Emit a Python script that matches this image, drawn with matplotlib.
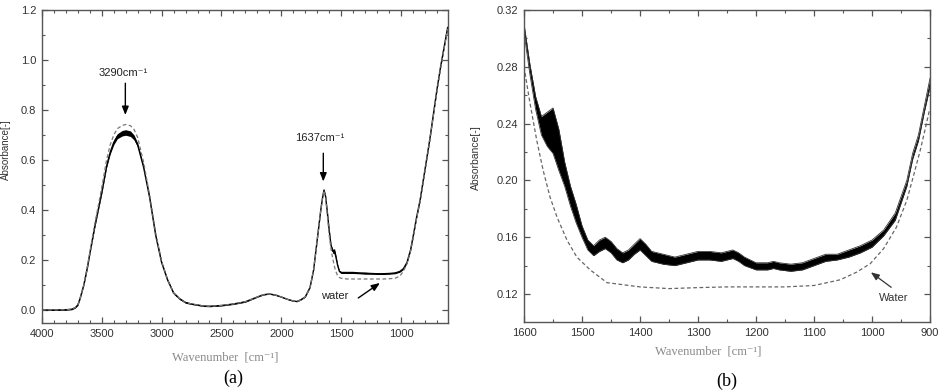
import matplotlib
matplotlib.use("Agg")
import matplotlib.pyplot as plt
from matplotlib.ticker import MultipleLocator, FormatStrFormatter
import numpy as np

# ---------------- data: panel (a) ----------------
wn_a = [4000, 3900, 3800, 3750, 3720, 3700, 3680, 3650, 3620, 3600, 3560, 3530, 3500,
        3460, 3430, 3400, 3370, 3330, 3300, 3260, 3230, 3200, 3150, 3100, 3050, 3000,
        2950, 2900, 2850, 2800, 2750, 2700, 2650, 2600, 2500, 2400, 2300, 2200, 2150,
        2100, 2050, 2000, 1950, 1900, 1870, 1840, 1800, 1760, 1730, 1710, 1690, 1670,
        1655, 1643, 1630, 1615, 1600, 1585, 1570, 1555, 1545, 1530, 1515, 1500, 1450,
        1400, 1350, 1300, 1250, 1200, 1150, 1100, 1050, 1010, 980, 950, 920, 900, 870,
        840, 800, 760, 730, 700, 670, 640, 610]
sample_a = [0.000, 0.000, 0.001, 0.003, 0.010, 0.020, 0.048, 0.100, 0.170, 0.225, 0.330,
            0.400, 0.470, 0.575, 0.630, 0.670, 0.695, 0.707, 0.710, 0.705, 0.690, 0.660,
            0.570, 0.450, 0.300, 0.190, 0.120, 0.068, 0.045, 0.030, 0.024, 0.020, 0.016,
            0.015, 0.018, 0.024, 0.033, 0.052, 0.061, 0.064, 0.060, 0.052, 0.043, 0.036,
            0.034, 0.040, 0.052, 0.090, 0.160, 0.240, 0.320, 0.400, 0.450, 0.480, 0.455,
            0.390, 0.320, 0.260, 0.235, 0.235, 0.215, 0.180, 0.155, 0.150, 0.150, 0.150,
            0.148, 0.147, 0.146, 0.145, 0.145, 0.146, 0.148, 0.154, 0.165, 0.190, 0.240,
            0.290, 0.370, 0.440, 0.560, 0.680, 0.780, 0.880, 0.970, 1.050, 1.130]
spread_a = [0.002, 0.002, 0.002, 0.002, 0.002, 0.002, 0.002, 0.002, 0.003, 0.003, 0.004,
            0.004, 0.005, 0.006, 0.007, 0.009, 0.010, 0.011, 0.011, 0.011, 0.010, 0.008,
            0.006, 0.005, 0.005, 0.005, 0.004, 0.004, 0.003, 0.003, 0.002, 0.002, 0.002,
            0.002, 0.002, 0.002, 0.002, 0.001, 0.001, 0.001, 0.001, 0.001, 0.001, 0.001,
            0.001, 0.001, 0.001, 0.001, 0.001, 0.001, 0.001, 0.001, 0.001, 0.002, 0.002,
            0.002, 0.002, 0.003, 0.008, 0.010, 0.008, 0.004, 0.004, 0.004, 0.004, 0.004,
            0.003, 0.004, 0.003, 0.003, 0.003, 0.003, 0.003, 0.003, 0.003, 0.003, 0.003,
            0.003, 0.003, 0.003, 0.003, 0.003, 0.003, 0.003, 0.003, 0.003, 0.003]
water_a = [0.000, 0.000, 0.001, 0.003, 0.010, 0.020, 0.048, 0.100, 0.175, 0.230, 0.340,
           0.415, 0.490, 0.600, 0.660, 0.700, 0.725, 0.738, 0.742, 0.737, 0.722, 0.690,
           0.590, 0.460, 0.310, 0.195, 0.122, 0.068, 0.045, 0.030, 0.024, 0.020, 0.016,
           0.015, 0.018, 0.024, 0.033, 0.052, 0.061, 0.064, 0.060, 0.052, 0.043, 0.036,
           0.034, 0.040, 0.052, 0.090, 0.160, 0.240, 0.320, 0.400, 0.450, 0.478, 0.450,
           0.380, 0.300, 0.245, 0.205, 0.172, 0.155, 0.138, 0.130, 0.127, 0.124, 0.124,
           0.124, 0.124, 0.124, 0.124, 0.124, 0.125, 0.127, 0.135, 0.155, 0.185, 0.235,
           0.285, 0.365, 0.435, 0.555, 0.675, 0.775, 0.875, 0.965, 1.045, 1.125]

# ---------------- data: panel (b) ----------------
wn_b = [1600, 1590, 1580, 1570, 1560, 1550, 1540, 1530, 1520, 1510, 1500, 1490, 1480,
        1470, 1460, 1450, 1440, 1430, 1420, 1410, 1400, 1390, 1380, 1360, 1340, 1320,
        1300, 1280, 1260, 1240, 1230, 1220, 1200, 1180, 1170, 1160, 1140, 1120, 1100,
        1080, 1060, 1040, 1020, 1000, 980, 960, 940, 930, 920, 910, 900]
upper_b = [0.310, 0.282, 0.259, 0.245, 0.248, 0.251, 0.236, 0.213, 0.196, 0.183, 0.168,
           0.158, 0.154, 0.158, 0.160, 0.157, 0.152, 0.149, 0.151, 0.155, 0.159, 0.155,
           0.150, 0.148, 0.146, 0.148, 0.150, 0.150, 0.149, 0.151, 0.149, 0.146, 0.142,
           0.142, 0.143, 0.142, 0.141, 0.142, 0.145, 0.148, 0.148, 0.151, 0.154, 0.158,
           0.165, 0.177, 0.200, 0.219, 0.232, 0.252, 0.272]
lower_b = [0.304, 0.275, 0.250, 0.232, 0.224, 0.219, 0.207, 0.196, 0.182, 0.170, 0.160,
           0.151, 0.147, 0.150, 0.152, 0.149, 0.144, 0.142, 0.144, 0.148, 0.151, 0.147,
           0.143, 0.141, 0.140, 0.142, 0.144, 0.144, 0.143, 0.145, 0.143, 0.140, 0.137,
           0.137, 0.138, 0.137, 0.136, 0.137, 0.140, 0.143, 0.144, 0.146, 0.149, 0.153,
           0.161, 0.172, 0.196, 0.215, 0.228, 0.248, 0.266]
wn_w = [1600, 1590, 1578, 1567, 1555, 1543, 1526, 1509, 1486, 1457, 1400, 1350, 1300,
        1250, 1200, 1150, 1100, 1055, 1026, 1003, 980, 958, 940, 929, 917, 909, 901]
water_b = [0.280, 0.255, 0.228, 0.207, 0.188, 0.174, 0.158, 0.146, 0.137, 0.128, 0.125,
           0.1238, 0.1245, 0.125, 0.125, 0.125, 0.126, 0.130, 0.1355, 0.1414, 0.152,
           0.167, 0.186, 0.2025, 0.221, 0.235, 0.2495]

# ---------------- figure ----------------
plt.rcParams['font.family'] = ['Liberation Sans', 'DejaVu Sans']
fig = plt.figure(figsize=(9.42, 3.90), dpi=100)
ax1 = fig.add_axes([0.0445, 0.1718, 0.4311, 0.8026])
ax2 = fig.add_axes([0.5563, 0.1744, 0.4310, 0.8000])

spine_c = '#555555'
tick_lab_c = '#333333'

def style(ax):
    for s in ax.spines.values():
        s.set_color(spine_c)
        s.set_linewidth(1.0)
    ax.tick_params(which='both', direction='in', top=True, right=True,
                   colors=spine_c, labelcolor=tick_lab_c, labelsize=8)
    ax.tick_params(which='major', length=4, width=0.9, pad=4)
    ax.tick_params(which='minor', length=2.5, width=0.8)

# panel (a)
ax1.fill_between(wn_a, np.array(sample_a) - np.array(spread_a),
                 np.array(sample_a) + np.array(spread_a), color='black', lw=0)
ax1.plot(wn_a, sample_a, color='black', lw=1.0)
ax1.plot(wn_a, water_a, color='#777777', lw=0.9, ls=(0, (3, 2)))
ax1.set_xlim(4000, 607)
ax1.set_ylim(-0.052, 1.2)
ax1.xaxis.set_major_locator(MultipleLocator(500))
ax1.xaxis.set_minor_locator(MultipleLocator(100))
ax1.yaxis.set_major_locator(MultipleLocator(0.2))
ax1.yaxis.set_minor_locator(MultipleLocator(0.1))
ax1.yaxis.set_major_formatter(FormatStrFormatter('%.1f'))
style(ax1)

arrow_kw = dict(arrowstyle='-|>,head_length=0.5,head_width=0.2', color='black', lw=1.0,
                shrinkA=0, shrinkB=0)
ax1.annotate('', xy=(3303, 0.78), xytext=(3303, 0.907), arrowprops=arrow_kw)
ax1.text(3320, 0.949, '3290cm⁻¹', ha='center', va='center', fontsize=8, color='#222222')
ax1.annotate('', xy=(1649, 0.514), xytext=(1649, 0.627), arrowprops=arrow_kw)
ax1.text(1677, 0.687, '1637cm⁻¹', ha='center', va='center', fontsize=8, color='#222222')
ax1.annotate('', xy=(1176, 0.108), xytext=(1357, 0.048), arrowprops=arrow_kw)
ax1.text(1551, 0.054, 'water', ha='center', va='center', fontsize=8, color='#222222')

# panel (b)
ax2.fill_between(wn_b, lower_b, upper_b, color='black', lw=0)
ax2.plot(wn_b, upper_b, color='#333333', lw=0.6)
ax2.plot(wn_b, lower_b, color='#333333', lw=0.6)
ax2.plot(wn_w, water_b, color='#666666', lw=0.9, ls=(0, (3, 2)))
ax2.set_xlim(1600, 900)
ax2.set_ylim(0.1003, 0.32)
ax2.xaxis.set_major_locator(MultipleLocator(100))
ax2.xaxis.set_minor_locator(MultipleLocator(50))
ax2.yaxis.set_major_locator(MultipleLocator(0.04))
ax2.yaxis.set_minor_locator(MultipleLocator(0.02))
ax2.yaxis.set_major_formatter(FormatStrFormatter('%.2f'))
style(ax2)
ax2.annotate('', xy=(1002, 0.1353), xytext=(967, 0.1247),
             arrowprops=dict(arrowstyle='-|>,head_length=0.5,head_width=0.2',
                             color='#333333', lw=0.9, shrinkA=0, shrinkB=0))
ax2.text(962, 0.117, 'Water', ha='center', va='center', fontsize=8, color='#333333')

# labels
serif = ['Liberation Serif', 'DejaVu Serif']
fig.text(225 / 942, 1 - 358 / 390, 'Wavenumber  [cm⁻¹]', ha='center', va='center',
         fontsize=9, color='#888888', family=serif)
fig.text(708 / 942, 1 - 352 / 390, 'Wavenumber  [cm⁻¹]', ha='center', va='center',
         fontsize=9, color='#888888', family=serif)
fig.text(233 / 942, 1 - 378 / 390, '(a)', ha='center', va='center', fontsize=13,
         color='black', family=serif)
fig.text(727 / 942, 1 - 381 / 390, '(b)', ha='center', va='center', fontsize=13,
         color='black', family=serif)
fig.text(476 / 942, 1 - 158 / 390, 'Absorbance[-]', ha='center', va='center',
         rotation=90, fontsize=7.5, color='#333333')
fig.text(6 / 942, 1 - 150 / 390, 'Absorbance[-]', ha='center', va='center',
         rotation=90, fontsize=7, color='#333333')

fig.savefig('out.png', dpi=100)
